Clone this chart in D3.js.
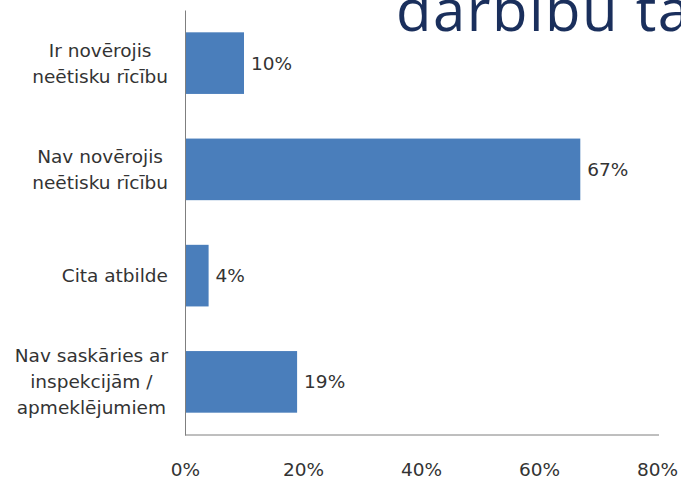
<!DOCTYPE html>
<html><head><meta charset="utf-8">
<script src="https://cdn.jsdelivr.net/npm/d3@7"></script>
<style>body{margin:0;background:#fff}svg{display:block}</style>
</head><body>
<script>
const categories = [
  ["Ir novērojis","neētisku rīcību"],
  ["Nav novērojis","neētisku rīcību"],
  ["Cita atbilde"],
  ["Nav saskāries ar","inspekcijām /","apmeklējumiem"]
];
const values = [10, 67, 4, 19];
const tickValues = [0, 20, 40, 60, 80];
const titleText = "darbību ta";

const W = 681, H = 479;
const m = {left:185, right:24, top:10, bottom:44};
const svg = d3.select("body").append("svg").attr("width",W).attr("height",H);

svg.append("text").attr("x",396).attr("y",31)
  .attr("font-family","'Open Sans', sans-serif").attr("font-size",58)
  .attr("letter-spacing",1.5)
  .attr("fill","#1a2f5c").text(titleText);

const x = d3.scaleLinear().domain([0,80]).range([m.left, W-m.right]);
const y = d3.scaleBand().domain(d3.range(categories.length)).range([m.top, H-m.bottom]).paddingInner(0.42).paddingOuter(0.21);

const font = "'DejaVu Sans', Verdana, sans-serif";
const fs = 18.5;

svg.selectAll("rect.bar").data(values).join("rect").attr("class","bar")
  .attr("x", x(0)).attr("y",(d,i)=>y(i)).attr("width", d=>x(d)-x(0)).attr("height", y.bandwidth())
  .attr("fill","#4a7ebb");

svg.selectAll("text.val").data(values).join("text").attr("class","val")
  .attr("x", d=>x(d)+7).attr("y",(d,i)=>y(i)+y.bandwidth()/2).attr("dy","0.35em")
  .attr("font-family",font).attr("font-size",fs).attr("fill","#333").text(d=>d+"%");

const lh = 26;
const rightEdge = 168;
categories.forEach((lines,i)=>{
  const cy = y(i)+y.bandwidth()/2;
  const t = svg.append("text").attr("text-anchor","middle").attr("font-family",font).attr("font-size",fs).attr("fill","#333");
  const spans = lines.map((l,j)=> t.append("tspan").attr("y", cy + (j-(lines.length-1)/2)*lh).attr("dy","0.35em").text(l));
  const maxW = d3.max(spans, s=>s.node().getComputedTextLength());
  spans.forEach(s=>s.attr("x", rightEdge - maxW/2));
});

// axes
const xAxis = d3.axisBottom(x).tickValues(tickValues).tickSize(0).tickPadding(28).tickFormat(d=>d+"%");
const gx = svg.append("g").attr("transform",`translate(0,${H-m.bottom})`).call(xAxis);
gx.select(".domain").attr("stroke","#7f7f7f").attr("d",`M${x(0)},0H${x(80)+2}`);
gx.selectAll("text").attr("font-family",font).attr("font-size",fs).attr("fill","#333");

const yAxis = d3.axisLeft(y).tickSize(0).tickFormat("");
const gy = svg.append("g").attr("transform",`translate(${m.left},0)`).call(yAxis);
gy.select(".domain").attr("stroke","#7f7f7f");
</script>
</body></html>
